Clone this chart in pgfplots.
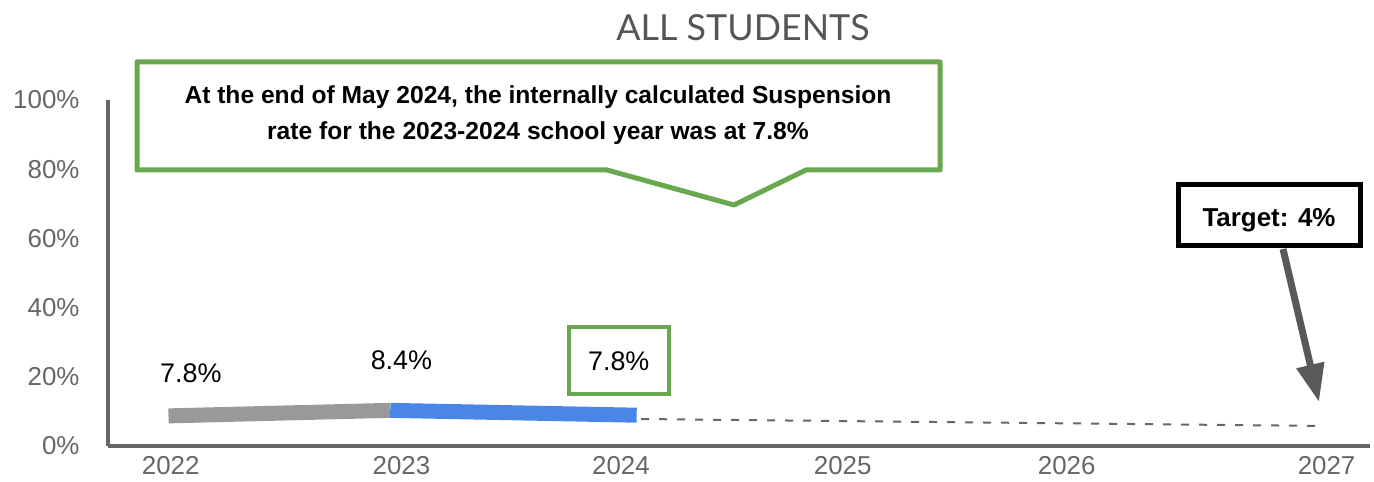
\documentclass[border=0pt]{standalone}
\usepackage{pgfplots}
\pgfplotsset{compat=1.18}
\usepackage{fontspec}
\setmainfont{Liberation Sans}
\newfontfamily\titlefont{Lato}
\usetikzlibrary{arrows.meta}
\definecolor{axisgray}{HTML}{666666}
\definecolor{linegray}{HTML}{999999}
\definecolor{lineblue}{HTML}{4A86E8}
\definecolor{callgreen}{HTML}{6AA84F}
\definecolor{titlegray}{HTML}{555555}
\definecolor{arrowgray}{HTML}{595959}
\begin{document}
\begin{tikzpicture}[x=1bp,y=1bp]
\path[use as bounding box] (0,0) rectangle (1374,482);
\begin{axis}[
  at={(108bp,36bp)}, anchor=south west,
  scale only axis, width=1262bp, height=346bp,
  xmin=2021.72, xmax=2027.354, ymin=0, ymax=100,
  axis x line=bottom, axis y line=left,
  axis line style={line width=4bp, draw=axisgray, -},
  major tick length=0pt,
  xtick={2022,2023.03,2024.01,2025,2026,2027.16},
  xticklabels={2022,2023,2024,2025,2026,2027},
  ytick={0,20,40,60,80,100},
  yticklabels={0\%,20\%,40\%,60\%,80\%,100\%},
  ticklabel style={font=\fontsize{26}{30}\selectfont, text=axisgray},
  xticklabel style={yshift=-7bp},
  yticklabel style={xshift=-25bp},
  /pgf/number format/assume math mode=true,
  clip=false,
]
\addplot[linegray, line width=15bp, line cap=butt] coordinates {(2021.99,8.7) (2022.98,10.3)};
\addplot[lineblue, line width=15bp, line cap=butt] coordinates {(2022.98,10.3) (2024.08,8.9)};
\addplot[axisgray, line width=2bp, dash pattern=on 8bp off 10bp] coordinates {(2024.10,7.8) (2027.13,5.8)};
\node[font=\fontsize{27}{32}\selectfont] at (axis cs:2022.09,21.1) {7.8\%};
\node[font=\fontsize{27}{32}\selectfont] at (axis cs:2023.03,24.9) {8.4\%};
\node[font=\fontsize{27}{32}\selectfont, draw=callgreen, line width=4bp, minimum width=100bp, minimum height=67bp] at (axis cs:2024.0,24.6) {7.8\%};
\end{axis}
% title
\node[font=\titlefont\fontsize{36}{42}\selectfont, text=titlegray] at (743,454) {ALL STUDENTS};
% callout
\draw[callgreen, line width=5bp, line join=round]
  (137,420) -- (940,420) -- (940,312) -- (806,312) -- (734,277) -- (607,312) -- (137,312) -- cycle;
\node[font=\bfseries\fontsize{24.7}{36}\selectfont, align=center] at (538,367)
  {At the end of May 2024, the internally calculated Suspension\\rate for the 2023-2024 school year was at 7.8\%};
% target
\draw[black, line width=5bp] (1178,297) rectangle (1360,236);
\node[font=\bfseries\fontsize{26}{30}\selectfont] at (1269,262) {Target: 4\%};
\draw[arrowgray, line width=7bp, -{Triangle[length=38bp,width=27bp]}] (1283,233) -- (1319,80);
\end{tikzpicture}
\end{document}
